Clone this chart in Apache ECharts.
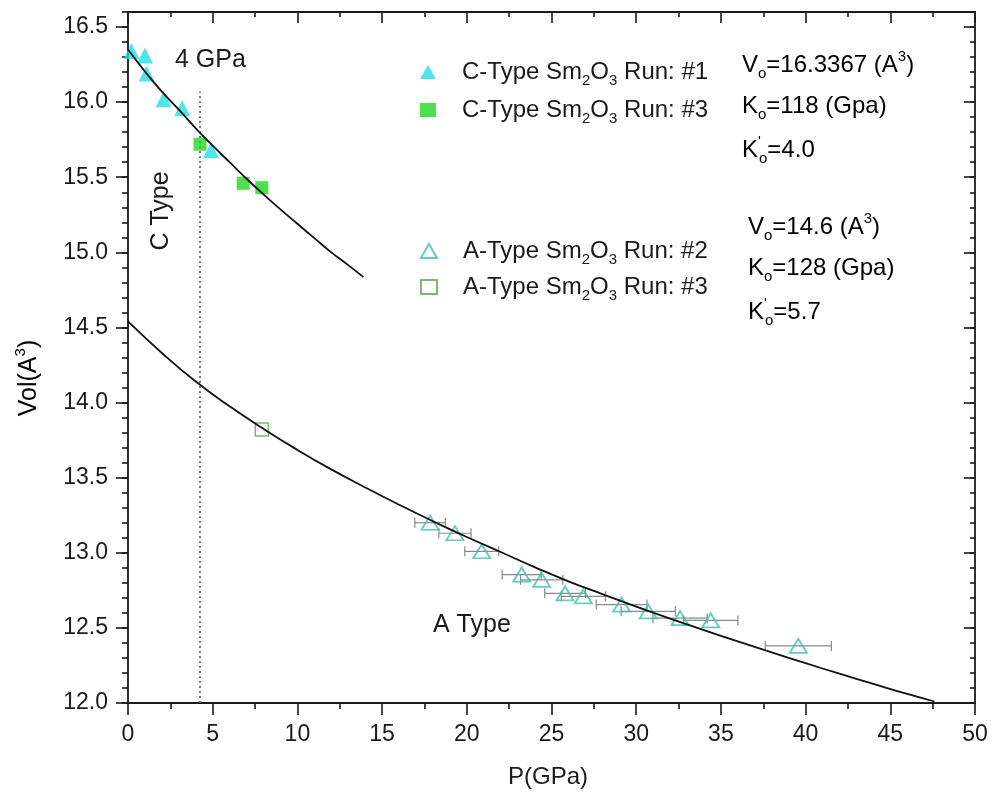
<!DOCTYPE html>
<html>
<head>
<meta charset="utf-8">
<script src="https://cdn.jsdelivr.net/npm/echarts@6/dist/echarts.min.js"></script>
<style>html,body{margin:0;padding:0;background:#fff}#chart{width:995px;height:793px}</style>
</head>
<body>
<div id="chart"></div>
<script>
// ---------- data ----------
const seriesNames = ['C-Type Sm2O3 Run: #1', 'C-Type Sm2O3 Run: #3', 'A-Type Sm2O3 Run: #2', 'A-Type Sm2O3 Run: #3'];

const cRun1P = [0.2, 1.0, 1.1, 2.1, 3.2, 4.9];
const cRun1V = [16.34, 16.31, 16.19, 16.02, 15.96, 15.68];

const cRun3P = [4.25, 6.8, 7.9];
const cRun3V = [15.72, 15.46, 15.43];

const aRun2P = [17.83, 19.3, 20.88, 23.24, 24.42, 25.8, 26.88, 29.14, 30.71, 32.59, 34.4, 39.57];
const aRun2V = [13.20, 13.13, 13.01, 12.855, 12.82, 12.73, 12.71, 12.655, 12.61, 12.565, 12.55, 12.38];
const aRun2Err = [0.9, 0.95, 1.0, 1.15, 1.25, 1.2, 1.3, 1.5, 1.6, 1.6, 1.6, 1.95];

const aRun3P = [7.9];
const aRun3V = [13.82];

const cFitP = [0, 1, 2, 3, 4, 5, 6, 7, 8, 9, 10, 11, 12, 13, 13.9];
const cFitV = [16.35, 16.204, 16.07, 15.95, 15.826, 15.71, 15.60, 15.49, 15.386, 15.286, 15.19, 15.095, 15.00, 14.915, 14.835];

const aFitP = [0, 2, 4, 6, 8, 10, 12, 14, 16, 18, 20, 22, 24, 26, 28, 30, 32, 34, 36, 38, 40, 42, 44, 46, 47.6];
const aFitV = [14.54, 14.33, 14.14, 13.975, 13.825, 13.685, 13.555, 13.435, 13.32, 13.21, 13.105, 13.005, 12.905, 12.81, 12.725, 12.642, 12.562, 12.485, 12.41, 12.337, 12.265, 12.195, 12.127, 12.06, 12.01];

const dividerP = [4.25, 4.25];
const dividerV = [12.0, 16.07];

const yMajorTicks = [12.0, 12.5, 13.0, 13.5, 14.0, 14.5, 15.0, 15.5, 16.0, 16.5];

// ---------- chart ----------
const FONT = "'Liberation Sans', Arial, sans-serif";
const INK = '#1a1a1a';
const rich = {
  b: { fontSize: 24, fontFamily: FONT, color: INK, lineHeight: 32 },
  sb: { fontSize: 15, fontFamily: FONT, color: INK, lineHeight: 8, verticalAlign: 'bottom' },
  sp: { fontSize: 15, fontFamily: FONT, color: INK, lineHeight: 8, verticalAlign: 'top' },
  pr: { fontSize: 15, fontFamily: FONT, color: INK, lineHeight: 10, verticalAlign: 'top', width: 1 },
  t: { fontSize: 25, fontFamily: FONT, color: INK, lineHeight: 32 },
  ts: { fontSize: 15, fontFamily: FONT, color: INK, lineHeight: 8, verticalAlign: 'top' },
  g: { width: 21, fontSize: 10 }
};

function pairs(xs, ys) { return xs.map((x, i) => [x, ys[i]]); }
function legendFmt(name) {
  return '{g| }{b|' + name.replace('Sm2O3', 'Sm}{sb|2}{b|O}{sb|3}{b|') + '}';
}

const gridBox = { left: 128, right: 20, top: 12, bottom: 90 };
const baseAxisLine = { show: true, lineStyle: { color: INK, width: 1.8 } };
const tickFont = { fontSize: 23, fontFamily: FONT, color: INK };

const option = {
  animation: false,
  backgroundColor: '#fff',
  grid: Object.assign({ containLabel: false }, gridBox),
  legend: [
    {
      data: [seriesNames[0], seriesNames[1]],
      orient: 'vertical', left: 420, top: 60, padding: 0, itemGap: 10,
      itemWidth: 16, itemHeight: 14,
      formatter: legendFmt,
      textStyle: { rich: rich, fontFamily: FONT, fontSize: 24, color: INK },
      selectedMode: false
    },
    {
      data: [seriesNames[2], seriesNames[3]],
      orient: 'vertical', left: 420, top: 239, padding: 0, itemGap: 8,
      itemWidth: 16, itemHeight: 14,
      formatter: legendFmt,
      textStyle: { rich: rich, fontFamily: FONT, fontSize: 24, color: INK },
      selectedMode: false
    }
  ],
  xAxis: [
    {
      type: 'value', position: 'bottom', min: 0, max: 50, interval: 5,
      axisLine: baseAxisLine,
      axisTick: { show: true, inside: false, length: 12, lineStyle: { color: INK, width: 1.6 } },
      minorTick: { show: true, splitNumber: 2, length: 6, lineStyle: { color: INK, width: 1.6 } },
      axisLabel: Object.assign({ margin: 20 }, tickFont),
      splitLine: { show: false }, minorSplitLine: { show: false }
    },
    {
      type: 'value', position: 'top', min: 0, max: 50, interval: 5,
      axisLine: baseAxisLine,
      axisTick: { show: true, inside: true, length: 11, lineStyle: { color: INK, width: 1.6 } },
      minorTick: { show: true, splitNumber: 2, length: 5, lineStyle: { color: INK, width: 1.6 } },
      axisLabel: { show: false },
      splitLine: { show: false }
    }
  ],
  yAxis: [
    {
      type: 'value', position: 'left', min: 12, max: 16.6, interval: 0.5,
      axisLine: baseAxisLine,
      axisTick: { show: true, inside: false, length: 12, customValues: yMajorTicks, lineStyle: { color: INK, width: 1.6 } },
      axisLabel: Object.assign({ customValues: yMajorTicks, margin: 20, formatter: v => v.toFixed(1) }, tickFont),
      splitLine: { show: false }
    },
    {
      type: 'value', position: 'left', min: 12, max: 16.6, interval: 0.1,
      axisLine: { show: false },
      axisTick: { show: true, inside: false, length: 6, lineStyle: { color: INK, width: 1.6 } },
      axisLabel: { show: false },
      splitLine: { show: false }
    },
    {
      type: 'value', position: 'right', min: 12, max: 16.6, interval: 0.5,
      axisLine: baseAxisLine,
      axisTick: { show: true, inside: true, length: 11, customValues: yMajorTicks, lineStyle: { color: INK, width: 1.6 } },
      axisLabel: { show: false },
      splitLine: { show: false }
    },
    {
      type: 'value', position: 'right', min: 12, max: 16.6, interval: 0.1,
      axisLine: { show: false },
      axisTick: { show: true, inside: true, length: 5, lineStyle: { color: INK, width: 1.6 } },
      axisLabel: { show: false },
      splitLine: { show: false }
    }
  ],
  series: [
    {
      name: 'A-Type error', type: 'custom', z: 1, silent: true,
      data: aRun2P.map((p, i) => [p, aRun2V[i], aRun2Err[i]]),
      renderItem: function (params, api) {
        const x = api.value(0), y = api.value(1), e = api.value(2);
        const a = api.coord([x - e, y]), b = api.coord([x + e, y]);
        const h = 5;
        const st = { stroke: '#8a8a8a', lineWidth: 1.2 };
        return {
          type: 'group', children: [
            { type: 'line', shape: { x1: a[0], y1: a[1], x2: b[0], y2: b[1] }, style: st },
            { type: 'line', shape: { x1: a[0], y1: a[1] - h, x2: a[0], y2: a[1] + h }, style: st },
            { type: 'line', shape: { x1: b[0], y1: b[1] - h, x2: b[0], y2: b[1] + h }, style: st }
          ]
        };
      }
    },
    {
      name: seriesNames[0], type: 'scatter', z: 3, symbol: 'triangle', symbolSize: 16,
      itemStyle: { color: '#22e0e6' },
      data: pairs(cRun1P, cRun1V)
    },
    {
      name: seriesNames[1], type: 'scatter', z: 3, symbol: 'rect', symbolSize: 13,
      itemStyle: { color: '#1fd81f' },
      data: pairs(cRun3P, cRun3V)
    },
    {
      name: seriesNames[2], type: 'scatter', z: 3, symbol: 'triangle', symbolSize: [17, 14],
      itemStyle: { color: 'rgba(255,255,255,0)', borderColor: '#3cbfb2', borderWidth: 1.8 },
      data: pairs(aRun2P, aRun2V)
    },
    {
      name: seriesNames[3], type: 'scatter', z: 3, symbol: 'rect', symbolSize: 13,
      itemStyle: { color: 'rgba(255,255,255,0)', borderColor: '#5aa84c', borderWidth: 1.5 },
      data: pairs(aRun3P, aRun3V)
    },
    {
      name: 'C fit', type: 'line', z: 4, showSymbol: false, smooth: true, silent: true,
      lineStyle: { color: '#111', width: 1.8 },
      data: pairs(cFitP, cFitV)
    },
    {
      name: 'A fit', type: 'line', z: 4, showSymbol: false, smooth: true, silent: true,
      lineStyle: { color: '#111', width: 1.8 },
      data: pairs(aFitP, aFitV)
    },
    {
      name: 'divider', type: 'line', z: 2, showSymbol: false, silent: true,
      lineStyle: { color: '#4a4f5a', width: 1.5, type: [2, 3] },
      data: pairs(dividerP, dividerV)
    }
  ],
  graphic: [
    { type: 'text', x: 175, y: 60, style: { text: '4 GPa', font: '25px ' + FONT, fill: INK, align: 'left', verticalAlign: 'middle' } },
    { type: 'text', x: 161, y: 211, rotation: Math.PI / 2, style: { text: 'C Type', font: '25px ' + FONT, fill: INK, align: 'center', verticalAlign: 'middle' } },
    { type: 'text', x: 433, y: 625, style: { text: 'A Type', font: '25px ' + FONT, fill: INK, align: 'left', verticalAlign: 'middle' } },
    { type: 'text', x: 742, y: 65, style: { text: '{b|V}{sb|o}{b|=16.3367 (A}{sp|3}{b|)}', rich: rich, align: 'left', verticalAlign: 'middle' } },
    { type: 'text', x: 742, y: 106, style: { text: '{b|K}{sb|o}{b|=118 (Gpa)}', rich: rich, align: 'left', verticalAlign: 'middle' } },
    { type: 'text', x: 742, y: 150, style: { text: '{b|K}{pr|\'}{sb|o}{b|=4.0}', rich: rich, align: 'left', verticalAlign: 'middle' } },
    { type: 'text', x: 748, y: 227, style: { text: '{b|V}{sb|o}{b|=14.6 (A}{sp|3}{b|)}', rich: rich, align: 'left', verticalAlign: 'middle' } },
    { type: 'text', x: 748, y: 268, style: { text: '{b|K}{sb|o}{b|=128 (Gpa)}', rich: rich, align: 'left', verticalAlign: 'middle' } },
    { type: 'text', x: 748, y: 312, style: { text: '{b|K}{pr|\'}{sb|o}{b|=5.7}', rich: rich, align: 'left', verticalAlign: 'middle' } },
    { type: 'text', x: 548, y: 777, style: { text: 'P(GPa)', font: '24px ' + FONT, fill: INK, align: 'center', verticalAlign: 'middle' } },
    { type: 'text', x: 29, y: 378, rotation: Math.PI / 2, style: { text: '{t|Vol(A}{ts|3}{t|)}', rich: rich, align: 'center', verticalAlign: 'middle' } }
  ]
};

const chart = echarts.init(document.getElementById('chart'), null, { renderer: 'canvas' });
chart.setOption(option);
</script>
</body>
</html>
